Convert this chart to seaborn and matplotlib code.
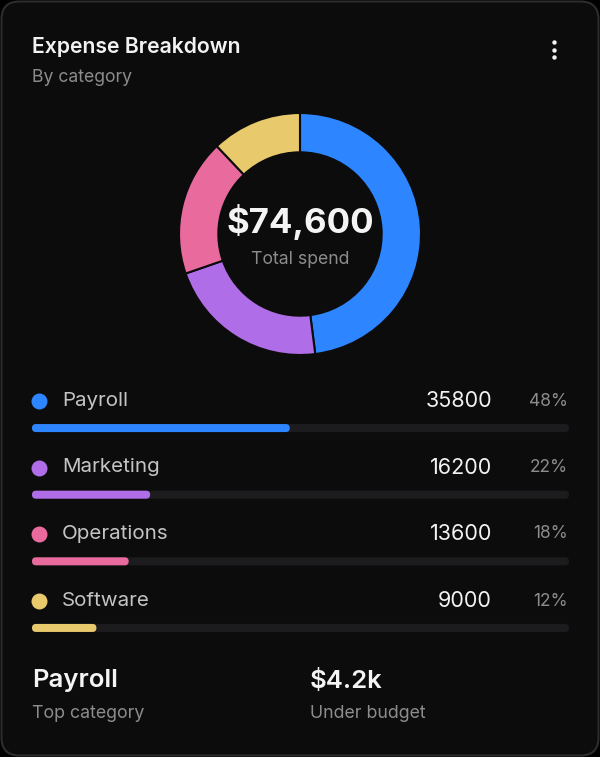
import numpy as np
import pandas as pd
import seaborn as sns
import matplotlib.pyplot as plt
from matplotlib.patches import FancyBboxPatch

categories = ["Payroll", "Marketing", "Operations", "Software"]
amounts = [35800, 16200, 13600, 9000]
shares = [48, 22, 18, 12]
colors = ["#2d86ff", "#b06de8", "#e96b9e", "#e8c96b"]
total_label = "$74,600"
top_category = "Payroll"
under_budget = "$4.2k"

sns.set_theme(style="dark")
plt.rcParams["font.family"] = ["Inter", "DejaVu Sans"]

W, H = 600, 757
card = "#0c0c0d"
fig = plt.figure(figsize=(W / 100, H / 100), dpi=100, facecolor="#000000")

# background / text layer in pixel coordinates
bg = fig.add_axes([0, 0, 1, 1])
bg.set_xlim(0, W)
bg.set_ylim(H, 0)
bg.axis("off")
bg.add_patch(FancyBboxPatch((1.5, 1.5), W - 3, H - 3,
                            boxstyle="round,pad=0,rounding_size=18",
                            facecolor=card, edgecolor="#2c2c2e", linewidth=1.5))

bg.text(32, 47, "Expense Breakdown", color="#f2f2f2", fontsize=15.3,
        fontweight="semibold", va="center", ha="left")
bg.text(32, 78, "By category", color="#8c8c8c", fontsize=12.7, va="center", ha="left")
for yy in (42, 49.5, 57):
    bg.plot(554, yy, "o", color="#f2f2f2", markersize=3.2, markeredgewidth=0)

# donut
cx, cy, r = 300, 234, 121
pad = 1.04
ax_d = fig.add_axes([(cx - r * pad) / W, (H - cy - r * pad) / H,
                     2 * r * pad / W, 2 * r * pad / H])
ax_d.pie(amounts, colors=colors, startangle=90, counterclock=False, radius=1,
         wedgeprops=dict(width=0.325, edgecolor=card, linewidth=1.5))
ax_d.set_xlim(-pad, pad)
ax_d.set_ylim(-pad, pad)
ax_d.set_aspect("equal")
ax_d.axis("off")
bg.text(cx, 222, total_label, color="#f4f4f4", fontsize=25, fontweight="bold",
        ha="center", va="center")
bg.text(cx, 260, "Total spend", color="#8c8c8c", fontsize=12.7, ha="center", va="center")

# progress bars
row_y = [428, 494.5, 561, 628]
step = row_y[1] - row_y[0]
x0, x1 = 32, 569
top = row_y[0] - step / 2
bot = row_y[-1] + step / 2
ax_b = fig.add_axes([x0 / W, (H - bot) / H, (x1 - x0) / W, (bot - top) / H])
df = pd.DataFrame({"category": categories, "share": [s / 100 for s in shares],
                   "track": [1.0] * len(categories)})
bh = 8 / step
sns.barplot(data=df, y="category", x="track", color="#1c1c1e", width=bh,
            saturation=1, ax=ax_b, orient="h")
sns.barplot(data=df, y="category", x="share", hue="category", palette=colors,
            width=bh, saturation=1, ax=ax_b, orient="h", legend=False)
ax_b.set_xlim(0, 1)
ax_b.set_ylim(len(categories) - 0.5, -0.5)
ax_b.axis("off")
ax_b.set_facecolor("none")

# rounded ends for the bars
aspect = ((bot - top) / len(categories)) / (x1 - x0)
for p in list(ax_b.patches):
    x, y = p.get_x(), p.get_y()
    w, h = p.get_width(), p.get_height()
    fc = p.get_facecolor()
    p.remove()
    ax_b.add_patch(FancyBboxPatch((x, y), w, h,
                                  boxstyle="round,pad=0,rounding_size=%f" % (4 / (x1 - x0)),
                                  mutation_aspect=1 / aspect,
                                  facecolor=fc, edgecolor="none"))

for i, cat in enumerate(categories):
    ly = row_y[i] - 27
    bg.plot(39, ly, "o", color=colors[i], markersize=11.5, markeredgewidth=0)
    bg.text(62, ly, cat, color="#c4c4c4", fontsize=14.8, ha="left", va="center")
    bg.text(492, ly, str(amounts[i]), color="#f2f2f2", fontsize=15.5,
            ha="right", va="center")
    bg.text(568, ly, "%d%%" % shares[i], color="#8c8c8c", fontsize=12.5,
            ha="right", va="center")

# footer stats
bg.text(32, 681, top_category, color="#f4f4f4", fontsize=18.5, fontweight="semibold",
        ha="left", va="center")
bg.text(32, 714, "Top category", color="#8c8c8c", fontsize=12.8, ha="left", va="center")
bg.text(310, 681, under_budget, color="#f4f4f4", fontsize=18.5, fontweight="semibold",
        ha="left", va="center")
bg.text(310, 714, "Under budget", color="#8c8c8c", fontsize=12.8, ha="left", va="center")

fig.savefig("out.png", dpi=100, facecolor=fig.get_facecolor())
